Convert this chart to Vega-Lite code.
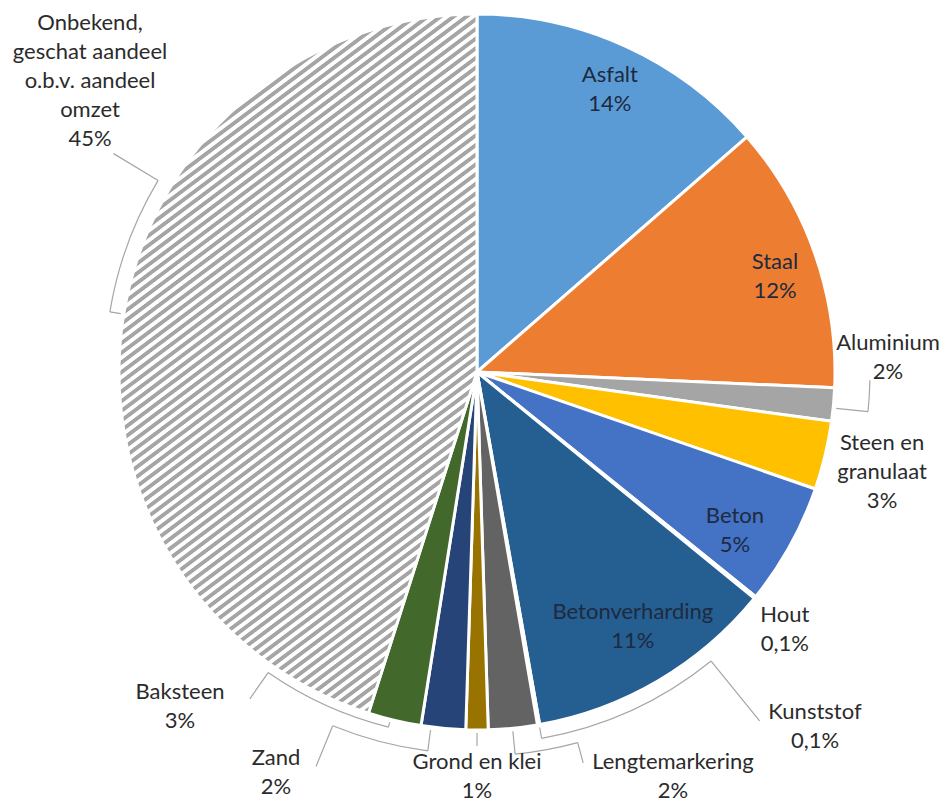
{
"$schema":"https://vega.github.io/schema/vega-lite/v6.json",
"width":946,"height":744,
"autosize":{"type":"none"},
"padding":{"left":4,"top":0,"right":0,"bottom":61},
"background":"white",
"config":{"view":{"stroke":null},"text":{"font":"Lato","fontSize":22,"lineHeight":29}},
"data":{"values":[
{"i":1,"cat":"Asfalt","v":13.6,"label":"Asfalt\n14%"},
{"i":2,"cat":"Staal","v":12.1,"label":"Staal\n12%"},
{"i":3,"cat":"Aluminium","v":1.5,"label":"Aluminium\n2%"},
{"i":4,"cat":"Steen en granulaat","v":3.1,"label":"Steen en\ngranulaat\n3%"},
{"i":5,"cat":"Beton","v":5.5,"label":"Beton\n5%"},
{"i":6,"cat":"Hout","v":0.1,"label":"Hout\n0,1%"},
{"i":7,"cat":"Betonverharding","v":11.3,"label":"Betonverharding\n11%"},
{"i":8,"cat":"Kunststof","v":0.1,"label":"Kunststof\n0,1%"},
{"i":9,"cat":"Lengtemarkering","v":2.2,"label":"Lengtemarkering\n2%"},
{"i":10,"cat":"Grond en klei","v":1.0,"label":"Grond en klei\n1%"},
{"i":11,"cat":"Zand","v":2.0,"label":"Zand\n2%"},
{"i":12,"cat":"Baksteen","v":2.4,"label":"Baksteen\n3%"},
{"i":13,"cat":"Onbekend","v":45.1,"label":"Onbekend,\ngeschat aandeel\no.b.v. aandeel\nomzet\n45%"}
]},
"transform":[{"stack":"v","groupby":[],"sort":[{"field":"i","order":"ascending"}],"as":["s0","s1"]}],
"layer":[
{"mark":{"type":"arc","outerRadius":358,"stroke":"white","strokeWidth":3},
 "encoding":{
  "theta":{"field":"s0","type":"quantitative","scale":{"domain":[0,100]}},
  "theta2":{"field":"s1"},
  "fill":{"condition":{"test":"datum.cat === 'Onbekend'","value":{"gradient":"linear","x1":0,"y1":0,"x2":0.4633,"y2":1.2061,"stops":[
{"offset":0,"color":"#a5a5a5"},{"offset":0.004,"color":"#a5a5a5"},{"offset":0.005,"color":"#fff"},{"offset":0.009,"color":"#fff"},
{"offset":0.01,"color":"#a5a5a5"},{"offset":0.014,"color":"#a5a5a5"},{"offset":0.015,"color":"#fff"},{"offset":0.019,"color":"#fff"},
{"offset":0.02,"color":"#a5a5a5"},{"offset":0.024,"color":"#a5a5a5"},{"offset":0.025,"color":"#fff"},{"offset":0.029,"color":"#fff"},
{"offset":0.03,"color":"#a5a5a5"},{"offset":0.034,"color":"#a5a5a5"},{"offset":0.035,"color":"#fff"},{"offset":0.039,"color":"#fff"},
{"offset":0.04,"color":"#a5a5a5"},{"offset":0.044,"color":"#a5a5a5"},{"offset":0.045,"color":"#fff"},{"offset":0.049,"color":"#fff"},
{"offset":0.05,"color":"#a5a5a5"},{"offset":0.054,"color":"#a5a5a5"},{"offset":0.055,"color":"#fff"},{"offset":0.059,"color":"#fff"},
{"offset":0.06,"color":"#a5a5a5"},{"offset":0.064,"color":"#a5a5a5"},{"offset":0.065,"color":"#fff"},{"offset":0.069,"color":"#fff"},
{"offset":0.07,"color":"#a5a5a5"},{"offset":0.074,"color":"#a5a5a5"},{"offset":0.075,"color":"#fff"},{"offset":0.079,"color":"#fff"},
{"offset":0.08,"color":"#a5a5a5"},{"offset":0.084,"color":"#a5a5a5"},{"offset":0.085,"color":"#fff"},{"offset":0.089,"color":"#fff"},
{"offset":0.09,"color":"#a5a5a5"},{"offset":0.094,"color":"#a5a5a5"},{"offset":0.095,"color":"#fff"},{"offset":0.099,"color":"#fff"},
{"offset":0.10,"color":"#a5a5a5"},{"offset":0.104,"color":"#a5a5a5"},{"offset":0.105,"color":"#fff"},{"offset":0.109,"color":"#fff"},
{"offset":0.11,"color":"#a5a5a5"},{"offset":0.114,"color":"#a5a5a5"},{"offset":0.115,"color":"#fff"},{"offset":0.119,"color":"#fff"},
{"offset":0.12,"color":"#a5a5a5"},{"offset":0.124,"color":"#a5a5a5"},{"offset":0.125,"color":"#fff"},{"offset":0.129,"color":"#fff"},
{"offset":0.13,"color":"#a5a5a5"},{"offset":0.134,"color":"#a5a5a5"},{"offset":0.135,"color":"#fff"},{"offset":0.139,"color":"#fff"},
{"offset":0.14,"color":"#a5a5a5"},{"offset":0.144,"color":"#a5a5a5"},{"offset":0.145,"color":"#fff"},{"offset":0.149,"color":"#fff"},
{"offset":0.15,"color":"#a5a5a5"},{"offset":0.154,"color":"#a5a5a5"},{"offset":0.155,"color":"#fff"},{"offset":0.159,"color":"#fff"},
{"offset":0.16,"color":"#a5a5a5"},{"offset":0.164,"color":"#a5a5a5"},{"offset":0.165,"color":"#fff"},{"offset":0.169,"color":"#fff"},
{"offset":0.17,"color":"#a5a5a5"},{"offset":0.174,"color":"#a5a5a5"},{"offset":0.175,"color":"#fff"},{"offset":0.179,"color":"#fff"},
{"offset":0.18,"color":"#a5a5a5"},{"offset":0.184,"color":"#a5a5a5"},{"offset":0.185,"color":"#fff"},{"offset":0.189,"color":"#fff"},
{"offset":0.19,"color":"#a5a5a5"},{"offset":0.194,"color":"#a5a5a5"},{"offset":0.195,"color":"#fff"},{"offset":0.199,"color":"#fff"},
{"offset":0.20,"color":"#a5a5a5"},{"offset":0.204,"color":"#a5a5a5"},{"offset":0.205,"color":"#fff"},{"offset":0.209,"color":"#fff"},
{"offset":0.21,"color":"#a5a5a5"},{"offset":0.214,"color":"#a5a5a5"},{"offset":0.215,"color":"#fff"},{"offset":0.219,"color":"#fff"},
{"offset":0.22,"color":"#a5a5a5"},{"offset":0.224,"color":"#a5a5a5"},{"offset":0.225,"color":"#fff"},{"offset":0.229,"color":"#fff"},
{"offset":0.23,"color":"#a5a5a5"},{"offset":0.234,"color":"#a5a5a5"},{"offset":0.235,"color":"#fff"},{"offset":0.239,"color":"#fff"},
{"offset":0.24,"color":"#a5a5a5"},{"offset":0.244,"color":"#a5a5a5"},{"offset":0.245,"color":"#fff"},{"offset":0.249,"color":"#fff"},
{"offset":0.25,"color":"#a5a5a5"},{"offset":0.254,"color":"#a5a5a5"},{"offset":0.255,"color":"#fff"},{"offset":0.259,"color":"#fff"},
{"offset":0.26,"color":"#a5a5a5"},{"offset":0.264,"color":"#a5a5a5"},{"offset":0.265,"color":"#fff"},{"offset":0.269,"color":"#fff"},
{"offset":0.27,"color":"#a5a5a5"},{"offset":0.274,"color":"#a5a5a5"},{"offset":0.275,"color":"#fff"},{"offset":0.279,"color":"#fff"},
{"offset":0.28,"color":"#a5a5a5"},{"offset":0.284,"color":"#a5a5a5"},{"offset":0.285,"color":"#fff"},{"offset":0.289,"color":"#fff"},
{"offset":0.29,"color":"#a5a5a5"},{"offset":0.294,"color":"#a5a5a5"},{"offset":0.295,"color":"#fff"},{"offset":0.299,"color":"#fff"},
{"offset":0.30,"color":"#a5a5a5"},{"offset":0.304,"color":"#a5a5a5"},{"offset":0.305,"color":"#fff"},{"offset":0.309,"color":"#fff"},
{"offset":0.31,"color":"#a5a5a5"},{"offset":0.314,"color":"#a5a5a5"},{"offset":0.315,"color":"#fff"},{"offset":0.319,"color":"#fff"},
{"offset":0.32,"color":"#a5a5a5"},{"offset":0.324,"color":"#a5a5a5"},{"offset":0.325,"color":"#fff"},{"offset":0.329,"color":"#fff"},
{"offset":0.33,"color":"#a5a5a5"},{"offset":0.334,"color":"#a5a5a5"},{"offset":0.335,"color":"#fff"},{"offset":0.339,"color":"#fff"},
{"offset":0.34,"color":"#a5a5a5"},{"offset":0.344,"color":"#a5a5a5"},{"offset":0.345,"color":"#fff"},{"offset":0.349,"color":"#fff"},
{"offset":0.35,"color":"#a5a5a5"},{"offset":0.354,"color":"#a5a5a5"},{"offset":0.355,"color":"#fff"},{"offset":0.359,"color":"#fff"},
{"offset":0.36,"color":"#a5a5a5"},{"offset":0.364,"color":"#a5a5a5"},{"offset":0.365,"color":"#fff"},{"offset":0.369,"color":"#fff"},
{"offset":0.37,"color":"#a5a5a5"},{"offset":0.374,"color":"#a5a5a5"},{"offset":0.375,"color":"#fff"},{"offset":0.379,"color":"#fff"},
{"offset":0.38,"color":"#a5a5a5"},{"offset":0.384,"color":"#a5a5a5"},{"offset":0.385,"color":"#fff"},{"offset":0.389,"color":"#fff"},
{"offset":0.39,"color":"#a5a5a5"},{"offset":0.394,"color":"#a5a5a5"},{"offset":0.395,"color":"#fff"},{"offset":0.399,"color":"#fff"},
{"offset":0.40,"color":"#a5a5a5"},{"offset":0.404,"color":"#a5a5a5"},{"offset":0.405,"color":"#fff"},{"offset":0.409,"color":"#fff"},
{"offset":0.41,"color":"#a5a5a5"},{"offset":0.414,"color":"#a5a5a5"},{"offset":0.415,"color":"#fff"},{"offset":0.419,"color":"#fff"},
{"offset":0.42,"color":"#a5a5a5"},{"offset":0.424,"color":"#a5a5a5"},{"offset":0.425,"color":"#fff"},{"offset":0.429,"color":"#fff"},
{"offset":0.43,"color":"#a5a5a5"},{"offset":0.434,"color":"#a5a5a5"},{"offset":0.435,"color":"#fff"},{"offset":0.439,"color":"#fff"},
{"offset":0.44,"color":"#a5a5a5"},{"offset":0.444,"color":"#a5a5a5"},{"offset":0.445,"color":"#fff"},{"offset":0.449,"color":"#fff"},
{"offset":0.45,"color":"#a5a5a5"},{"offset":0.454,"color":"#a5a5a5"},{"offset":0.455,"color":"#fff"},{"offset":0.459,"color":"#fff"},
{"offset":0.46,"color":"#a5a5a5"},{"offset":0.464,"color":"#a5a5a5"},{"offset":0.465,"color":"#fff"},{"offset":0.469,"color":"#fff"},
{"offset":0.47,"color":"#a5a5a5"},{"offset":0.474,"color":"#a5a5a5"},{"offset":0.475,"color":"#fff"},{"offset":0.479,"color":"#fff"},
{"offset":0.48,"color":"#a5a5a5"},{"offset":0.484,"color":"#a5a5a5"},{"offset":0.485,"color":"#fff"},{"offset":0.489,"color":"#fff"},
{"offset":0.49,"color":"#a5a5a5"},{"offset":0.494,"color":"#a5a5a5"},{"offset":0.495,"color":"#fff"},{"offset":0.499,"color":"#fff"},
{"offset":0.50,"color":"#a5a5a5"},{"offset":0.504,"color":"#a5a5a5"},{"offset":0.505,"color":"#fff"},{"offset":0.509,"color":"#fff"},
{"offset":0.51,"color":"#a5a5a5"},{"offset":0.514,"color":"#a5a5a5"},{"offset":0.515,"color":"#fff"},{"offset":0.519,"color":"#fff"},
{"offset":0.52,"color":"#a5a5a5"},{"offset":0.524,"color":"#a5a5a5"},{"offset":0.525,"color":"#fff"},{"offset":0.529,"color":"#fff"},
{"offset":0.53,"color":"#a5a5a5"},{"offset":0.534,"color":"#a5a5a5"},{"offset":0.535,"color":"#fff"},{"offset":0.539,"color":"#fff"},
{"offset":0.54,"color":"#a5a5a5"},{"offset":0.544,"color":"#a5a5a5"},{"offset":0.545,"color":"#fff"},{"offset":0.549,"color":"#fff"},
{"offset":0.55,"color":"#a5a5a5"},{"offset":0.554,"color":"#a5a5a5"},{"offset":0.555,"color":"#fff"},{"offset":0.559,"color":"#fff"},
{"offset":0.56,"color":"#a5a5a5"},{"offset":0.564,"color":"#a5a5a5"},{"offset":0.565,"color":"#fff"},{"offset":0.569,"color":"#fff"},
{"offset":0.57,"color":"#a5a5a5"},{"offset":0.574,"color":"#a5a5a5"},{"offset":0.575,"color":"#fff"},{"offset":0.579,"color":"#fff"},
{"offset":0.58,"color":"#a5a5a5"},{"offset":0.584,"color":"#a5a5a5"},{"offset":0.585,"color":"#fff"},{"offset":0.589,"color":"#fff"},
{"offset":0.59,"color":"#a5a5a5"},{"offset":0.594,"color":"#a5a5a5"},{"offset":0.595,"color":"#fff"},{"offset":0.599,"color":"#fff"},
{"offset":0.60,"color":"#a5a5a5"},{"offset":0.604,"color":"#a5a5a5"},{"offset":0.605,"color":"#fff"},{"offset":0.609,"color":"#fff"},
{"offset":0.61,"color":"#a5a5a5"},{"offset":0.614,"color":"#a5a5a5"},{"offset":0.615,"color":"#fff"},{"offset":0.619,"color":"#fff"},
{"offset":0.62,"color":"#a5a5a5"},{"offset":0.624,"color":"#a5a5a5"},{"offset":0.625,"color":"#fff"},{"offset":0.629,"color":"#fff"},
{"offset":0.63,"color":"#a5a5a5"},{"offset":0.634,"color":"#a5a5a5"},{"offset":0.635,"color":"#fff"},{"offset":0.639,"color":"#fff"},
{"offset":0.64,"color":"#a5a5a5"},{"offset":0.644,"color":"#a5a5a5"},{"offset":0.645,"color":"#fff"},{"offset":0.649,"color":"#fff"},
{"offset":0.65,"color":"#a5a5a5"},{"offset":0.654,"color":"#a5a5a5"},{"offset":0.655,"color":"#fff"},{"offset":0.659,"color":"#fff"},
{"offset":0.66,"color":"#a5a5a5"},{"offset":0.664,"color":"#a5a5a5"},{"offset":0.665,"color":"#fff"},{"offset":0.669,"color":"#fff"},
{"offset":0.67,"color":"#a5a5a5"},{"offset":0.674,"color":"#a5a5a5"},{"offset":0.675,"color":"#fff"},{"offset":0.679,"color":"#fff"},
{"offset":0.68,"color":"#a5a5a5"},{"offset":0.684,"color":"#a5a5a5"},{"offset":0.685,"color":"#fff"},{"offset":0.689,"color":"#fff"},
{"offset":0.69,"color":"#a5a5a5"},{"offset":0.694,"color":"#a5a5a5"},{"offset":0.695,"color":"#fff"},{"offset":0.699,"color":"#fff"},
{"offset":0.70,"color":"#a5a5a5"},{"offset":0.704,"color":"#a5a5a5"},{"offset":0.705,"color":"#fff"},{"offset":0.709,"color":"#fff"},
{"offset":0.71,"color":"#a5a5a5"},{"offset":0.714,"color":"#a5a5a5"},{"offset":0.715,"color":"#fff"},{"offset":0.719,"color":"#fff"},
{"offset":0.72,"color":"#a5a5a5"},{"offset":0.724,"color":"#a5a5a5"},{"offset":0.725,"color":"#fff"},{"offset":0.729,"color":"#fff"},
{"offset":0.73,"color":"#a5a5a5"},{"offset":0.734,"color":"#a5a5a5"},{"offset":0.735,"color":"#fff"},{"offset":0.739,"color":"#fff"},
{"offset":0.74,"color":"#a5a5a5"},{"offset":0.744,"color":"#a5a5a5"},{"offset":0.745,"color":"#fff"},{"offset":0.749,"color":"#fff"},
{"offset":0.75,"color":"#a5a5a5"},{"offset":0.754,"color":"#a5a5a5"},{"offset":0.755,"color":"#fff"},{"offset":0.759,"color":"#fff"},
{"offset":0.76,"color":"#a5a5a5"},{"offset":0.764,"color":"#a5a5a5"},{"offset":0.765,"color":"#fff"},{"offset":0.769,"color":"#fff"},
{"offset":0.77,"color":"#a5a5a5"},{"offset":0.774,"color":"#a5a5a5"},{"offset":0.775,"color":"#fff"},{"offset":0.779,"color":"#fff"},
{"offset":0.78,"color":"#a5a5a5"},{"offset":0.784,"color":"#a5a5a5"},{"offset":0.785,"color":"#fff"},{"offset":0.789,"color":"#fff"},
{"offset":0.79,"color":"#a5a5a5"},{"offset":0.794,"color":"#a5a5a5"},{"offset":0.795,"color":"#fff"},{"offset":0.799,"color":"#fff"},
{"offset":0.80,"color":"#a5a5a5"},{"offset":0.804,"color":"#a5a5a5"},{"offset":0.805,"color":"#fff"},{"offset":0.809,"color":"#fff"},
{"offset":0.81,"color":"#a5a5a5"},{"offset":0.814,"color":"#a5a5a5"},{"offset":0.815,"color":"#fff"},{"offset":0.819,"color":"#fff"},
{"offset":0.82,"color":"#a5a5a5"},{"offset":0.824,"color":"#a5a5a5"},{"offset":0.825,"color":"#fff"},{"offset":0.829,"color":"#fff"},
{"offset":0.83,"color":"#a5a5a5"},{"offset":0.834,"color":"#a5a5a5"},{"offset":0.835,"color":"#fff"},{"offset":0.839,"color":"#fff"},
{"offset":0.84,"color":"#a5a5a5"},{"offset":0.844,"color":"#a5a5a5"},{"offset":0.845,"color":"#fff"},{"offset":0.849,"color":"#fff"},
{"offset":0.85,"color":"#a5a5a5"},{"offset":0.854,"color":"#a5a5a5"},{"offset":0.855,"color":"#fff"},{"offset":0.859,"color":"#fff"},
{"offset":0.86,"color":"#a5a5a5"},{"offset":0.864,"color":"#a5a5a5"},{"offset":0.865,"color":"#fff"},{"offset":0.869,"color":"#fff"},
{"offset":0.87,"color":"#a5a5a5"},{"offset":0.874,"color":"#a5a5a5"},{"offset":0.875,"color":"#fff"},{"offset":0.879,"color":"#fff"},
{"offset":0.88,"color":"#a5a5a5"},{"offset":0.884,"color":"#a5a5a5"},{"offset":0.885,"color":"#fff"},{"offset":0.889,"color":"#fff"},
{"offset":0.89,"color":"#a5a5a5"},{"offset":0.894,"color":"#a5a5a5"},{"offset":0.895,"color":"#fff"},{"offset":0.899,"color":"#fff"},
{"offset":0.90,"color":"#a5a5a5"},{"offset":0.904,"color":"#a5a5a5"},{"offset":0.905,"color":"#fff"},{"offset":0.909,"color":"#fff"},
{"offset":0.91,"color":"#a5a5a5"},{"offset":0.914,"color":"#a5a5a5"},{"offset":0.915,"color":"#fff"},{"offset":0.919,"color":"#fff"},
{"offset":0.92,"color":"#a5a5a5"},{"offset":0.924,"color":"#a5a5a5"},{"offset":0.925,"color":"#fff"},{"offset":0.929,"color":"#fff"},
{"offset":0.93,"color":"#a5a5a5"},{"offset":0.934,"color":"#a5a5a5"},{"offset":0.935,"color":"#fff"},{"offset":0.939,"color":"#fff"},
{"offset":0.94,"color":"#a5a5a5"},{"offset":0.944,"color":"#a5a5a5"},{"offset":0.945,"color":"#fff"},{"offset":0.949,"color":"#fff"},
{"offset":0.95,"color":"#a5a5a5"},{"offset":0.954,"color":"#a5a5a5"},{"offset":0.955,"color":"#fff"},{"offset":0.959,"color":"#fff"},
{"offset":0.96,"color":"#a5a5a5"},{"offset":0.964,"color":"#a5a5a5"},{"offset":0.965,"color":"#fff"},{"offset":0.969,"color":"#fff"},
{"offset":0.97,"color":"#a5a5a5"},{"offset":0.974,"color":"#a5a5a5"},{"offset":0.975,"color":"#fff"},{"offset":0.979,"color":"#fff"},
{"offset":0.98,"color":"#a5a5a5"},{"offset":0.984,"color":"#a5a5a5"},{"offset":0.985,"color":"#fff"},{"offset":0.989,"color":"#fff"},
{"offset":0.99,"color":"#a5a5a5"},{"offset":0.994,"color":"#a5a5a5"},{"offset":0.995,"color":"#fff"},{"offset":1,"color":"#fff"}
]}},
   "field":"cat","type":"nominal","legend":null,
   "scale":{"domain":["Asfalt","Staal","Aluminium","Steen en granulaat","Beton","Hout","Betonverharding","Kunststof","Lengtemarkering","Grond en klei","Zand","Baksteen","Onbekend"],
            "range":["#5B9BD5","#ED7D31","#A5A5A5","#FFC000","#4472C4","#70AD47","#255E91","#9E480E","#636363","#997300","#264478","#43682B","#cccccc"]}}
 }},
{"transform":[{"filter":"datum.cat === 'Aluminium'"}],"mark":{"type":"arc","filled":false,"color":"#a6a6a6","strokeWidth":1.2,"innerRadius":361,"outerRadius":393,"thetaOffset":0.0572,"theta2Offset":0.0572},"encoding":{"theta":{"field":"s0","type":"quantitative","scale":{"domain":[0,100]}},"theta2":{"field":"s0"}}},
{"transform":[{"filter":"datum.cat === 'Aluminium'"}],"mark":{"type":"arc","filled":false,"color":"#a6a6a6","strokeWidth":1.2,"innerRadius":393,"outerRadius":393,"thetaOffset":0.0572,"theta2Offset":-0.0230},"encoding":{"theta":{"field":"s0","type":"quantitative","scale":{"domain":[0,100]}},"theta2":{"field":"s0"}}},
{"transform":[{"filter":"datum.cat === 'Kunststof'"}],"mark":{"type":"arc","filled":false,"color":"#a6a6a6","strokeWidth":1.2,"innerRadius":361,"outerRadius":372,"thetaOffset":0.0014,"theta2Offset":0.0014},"encoding":{"theta":{"field":"s0","type":"quantitative","scale":{"domain":[0,100]}},"theta2":{"field":"s0"}}},
{"transform":[{"filter":"datum.cat === 'Kunststof'"}],"mark":{"type":"arc","filled":false,"color":"#a6a6a6","strokeWidth":1.2,"innerRadius":372,"outerRadius":372,"thetaOffset":0.0014,"theta2Offset":-0.5048},"encoding":{"theta":{"field":"s0","type":"quantitative","scale":{"domain":[0,100]}},"theta2":{"field":"s0"}}},
{"transform":[{"filter":"datum.cat === 'Kunststof'"}],"mark":{"type":"arc","filled":false,"color":"#a6a6a6","strokeWidth":1.2,"innerRadius":372,"outerRadius":449,"thetaOffset":-0.5048,"theta2Offset":-0.5048},"encoding":{"theta":{"field":"s0","type":"quantitative","scale":{"domain":[0,100]}},"theta2":{"field":"s0"}}},
{"transform":[{"filter":"datum.cat === 'Lengtemarkering'"}],"mark":{"type":"arc","filled":false,"color":"#a6a6a6","strokeWidth":1.2,"innerRadius":361,"outerRadius":384,"thetaOffset":0.0702,"theta2Offset":0.0702},"encoding":{"theta":{"field":"s0","type":"quantitative","scale":{"domain":[0,100]}},"theta2":{"field":"s0"}}},
{"transform":[{"filter":"datum.cat === 'Lengtemarkering'"}],"mark":{"type":"arc","filled":false,"color":"#a6a6a6","strokeWidth":1.2,"innerRadius":384,"outerRadius":384,"thetaOffset":0.0702,"theta2Offset":-0.0956},"encoding":{"theta":{"field":"s0","type":"quantitative","scale":{"domain":[0,100]}},"theta2":{"field":"s0"}}},
{"transform":[{"filter":"datum.cat === 'Lengtemarkering'"}],"mark":{"type":"arc","filled":false,"color":"#a6a6a6","strokeWidth":1.2,"innerRadius":384,"outerRadius":405,"thetaOffset":-0.0956,"theta2Offset":-0.0956},"encoding":{"theta":{"field":"s0","type":"quantitative","scale":{"domain":[0,100]}},"theta2":{"field":"s0"}}},
{"transform":[{"filter":"datum.cat === 'Grond en klei'"}],"mark":{"type":"arc","filled":false,"color":"#a6a6a6","strokeWidth":1.2,"innerRadius":361,"outerRadius":374,"thetaOffset":0.0314,"theta2Offset":0.0314},"encoding":{"theta":{"field":"s0","type":"quantitative","scale":{"domain":[0,100]}},"theta2":{"field":"s0"}}},
{"transform":[{"filter":"datum.cat === 'Zand'"}],"mark":{"type":"arc","filled":false,"color":"#a6a6a6","strokeWidth":1.2,"innerRadius":361,"outerRadius":382,"thetaOffset":0.0977,"theta2Offset":0.0977},"encoding":{"theta":{"field":"s0","type":"quantitative","scale":{"domain":[0,100]}},"theta2":{"field":"s0"}}},
{"transform":[{"filter":"datum.cat === 'Zand'"}],"mark":{"type":"arc","filled":false,"color":"#a6a6a6","strokeWidth":1.2,"innerRadius":382,"outerRadius":382,"thetaOffset":0.0977,"theta2Offset":0.3560},"encoding":{"theta":{"field":"s0","type":"quantitative","scale":{"domain":[0,100]}},"theta2":{"field":"s0"}}},
{"transform":[{"filter":"datum.cat === 'Zand'"}],"mark":{"type":"arc","filled":false,"color":"#a6a6a6","strokeWidth":1.2,"innerRadius":382,"outerRadius":426,"thetaOffset":0.3560,"theta2Offset":0.3560},"encoding":{"theta":{"field":"s0","type":"quantitative","scale":{"domain":[0,100]}},"theta2":{"field":"s0"}}},
{"transform":[{"filter":"datum.cat === 'Baksteen'"}],"mark":{"type":"arc","filled":false,"color":"#a6a6a6","strokeWidth":1.2,"innerRadius":361,"outerRadius":366,"thetaOffset":0.0873,"theta2Offset":0.0873},"encoding":{"theta":{"field":"s0","type":"quantitative","scale":{"domain":[0,100]}},"theta2":{"field":"s0"}}},
{"transform":[{"filter":"datum.cat === 'Baksteen'"}],"mark":{"type":"arc","filled":false,"color":"#a6a6a6","strokeWidth":1.2,"innerRadius":366,"outerRadius":366,"thetaOffset":0.0873,"theta2Offset":0.4503},"encoding":{"theta":{"field":"s0","type":"quantitative","scale":{"domain":[0,100]}},"theta2":{"field":"s0"}}},
{"transform":[{"filter":"datum.cat === 'Baksteen'"}],"mark":{"type":"arc","filled":false,"color":"#a6a6a6","strokeWidth":1.2,"innerRadius":366,"outerRadius":398,"thetaOffset":0.4503,"theta2Offset":0.4503},"encoding":{"theta":{"field":"s0","type":"quantitative","scale":{"domain":[0,100]}},"theta2":{"field":"s0"}}},
{"transform":[{"filter":"datum.cat === 'Onbekend'"}],"mark":{"type":"arc","filled":false,"color":"#a6a6a6","strokeWidth":1.2,"innerRadius":361,"outerRadius":372,"thetaOffset":1.4252,"theta2Offset":1.4252},"encoding":{"theta":{"field":"s0","type":"quantitative","scale":{"domain":[0,100]}},"theta2":{"field":"s0"}}},
{"transform":[{"filter":"datum.cat === 'Onbekend'"}],"mark":{"type":"arc","filled":false,"color":"#a6a6a6","strokeWidth":1.2,"innerRadius":372,"outerRadius":372,"thetaOffset":1.4252,"theta2Offset":1.8040},"encoding":{"theta":{"field":"s0","type":"quantitative","scale":{"domain":[0,100]}},"theta2":{"field":"s0"}}},
{"transform":[{"filter":"datum.cat === 'Onbekend'"}],"mark":{"type":"arc","filled":false,"color":"#a6a6a6","strokeWidth":1.2,"innerRadius":372,"outerRadius":424,"thetaOffset":1.8040,"theta2Offset":1.8040},"encoding":{"theta":{"field":"s0","type":"quantitative","scale":{"domain":[0,100]}},"theta2":{"field":"s0"}}},
{"transform":[{"filter":"datum.cat === 'Asfalt'"}],"mark":{"type":"text","radius":325.4,"thetaOffset":0.4206,"lineBreak":"\n","align":"center","baseline":"middle","color":"#1d2a3f"},"encoding":{"theta":{"field":"s0","type":"quantitative","scale":{"domain":[0,100]}},"text":{"field":"label","type":"nominal"}}},
{"transform":[{"filter":"datum.cat === 'Staal'"}],"mark":{"type":"text","radius":317.7,"thetaOffset":0.3620,"lineBreak":"\n","align":"center","baseline":"middle","color":"#1d2a3f"},"encoding":{"theta":{"field":"s0","type":"quantitative","scale":{"domain":[0,100]}},"text":{"field":"label","type":"nominal"}}},
{"transform":[{"filter":"datum.cat === 'Beton'"}],"mark":{"type":"text","radius":295.5,"thetaOffset":0.1766,"lineBreak":"\n","align":"center","baseline":"middle","color":"#1d2a3f"},"encoding":{"theta":{"field":"s0","type":"quantitative","scale":{"domain":[0,100]}},"text":{"field":"label","type":"nominal"}}},
{"transform":[{"filter":"datum.cat === 'Betonverharding'"}],"mark":{"type":"text","radius":286.2,"thetaOffset":0.3100,"lineBreak":"\n","align":"center","baseline":"middle","color":"#1d2a3f"},"encoding":{"theta":{"field":"s0","type":"quantitative","scale":{"domain":[0,100]}},"text":{"field":"label","type":"nominal"}}},
{"transform":[{"filter":"datum.cat === 'Aluminium'"}],"mark":{"type":"text","radius":412,"thetaOffset":-0.1138,"lineBreak":"\n","align":"center","baseline":"middle","color":"#2b2b2b"},"encoding":{"theta":{"field":"s0","type":"quantitative","scale":{"domain":[0,100]}},"text":{"field":"label","type":"nominal"}}},
{"transform":[{"filter":"datum.cat === 'Steen en granulaat'"}],"mark":{"type":"text","radius":411.2,"thetaOffset":0.0346,"lineBreak":"\n","align":"center","baseline":"middle","color":"#2b2b2b"},"encoding":{"theta":{"field":"s0","type":"quantitative","scale":{"domain":[0,100]}},"text":{"field":"label","type":"nominal"}}},
{"transform":[{"filter":"datum.cat === 'Hout'"}],"mark":{"type":"text","radius":392.3,"thetaOffset":-0.0101,"lineBreak":"\n","align":"center","baseline":"middle","color":"#2b2b2b"},"encoding":{"theta":{"field":"s0","type":"quantitative","scale":{"domain":[0,100]}},"text":{"field":"label","type":"nominal"}}},
{"transform":[{"filter":"datum.cat === 'Kunststof'"}],"mark":{"type":"text","radius":479.4,"thetaOffset":-0.6065,"lineBreak":"\n","align":"center","baseline":"middle","color":"#2b2b2b"},"encoding":{"theta":{"field":"s0","type":"quantitative","scale":{"domain":[0,100]}},"text":{"field":"label","type":"nominal"}}},
{"transform":[{"filter":"datum.cat === 'Lengtemarkering'"}],"mark":{"type":"text","radius":436.5,"thetaOffset":-0.2960,"lineBreak":"\n","align":"center","baseline":"middle","color":"#2b2b2b"},"encoding":{"theta":{"field":"s0","type":"quantitative","scale":{"domain":[0,100]}},"text":{"field":"label","type":"nominal"}}},
{"transform":[{"filter":"datum.cat === 'Grond en klei'"}],"mark":{"type":"text","radius":390,"thetaOffset":0.0314,"lineBreak":"\n","align":"center","baseline":"middle","color":"#2b2b2b"},"encoding":{"theta":{"field":"s0","type":"quantitative","scale":{"domain":[0,100]}},"text":{"field":"label","type":"nominal"}}},
{"transform":[{"filter":"datum.cat === 'Zand'"}],"mark":{"type":"text","radius":435.2,"thetaOffset":0.4487,"lineBreak":"\n","align":"center","baseline":"middle","color":"#2b2b2b"},"encoding":{"theta":{"field":"s0","type":"quantitative","scale":{"domain":[0,100]}},"text":{"field":"label","type":"nominal"}}},
{"transform":[{"filter":"datum.cat === 'Baksteen'"}],"mark":{"type":"text","radius":436.6,"thetaOffset":0.5910,"lineBreak":"\n","align":"center","baseline":"middle","color":"#2b2b2b"},"encoding":{"theta":{"field":"s0","type":"quantitative","scale":{"domain":[0,100]}},"text":{"field":"label","type":"nominal"}}},
{"transform":[{"filter":"datum.cat === 'Onbekend'"}],"mark":{"type":"text","radius":521.1,"thetaOffset":1.9967,"lineBreak":"\n","align":"center","baseline":"middle","color":"#2b2b2b"},"encoding":{"theta":{"field":"s0","type":"quantitative","scale":{"domain":[0,100]}},"text":{"field":"label","type":"nominal"}}}
]
}
